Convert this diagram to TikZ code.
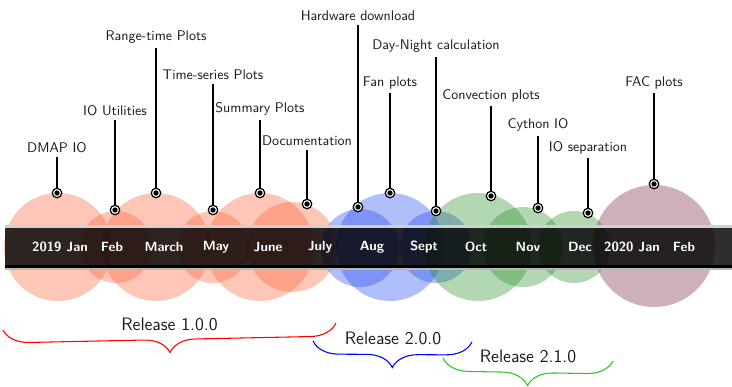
\documentclass[tikz,border=0pt]{standalone}
\usepackage{fontspec}
\usetikzlibrary{decorations.pathreplacing}
\definecolor{cpink}{RGB}{252,92,50}
\definecolor{cblue}{RGB}{30,70,240}
\definecolor{cgreen}{RGB}{35,140,35}
\definecolor{cmauve}{RGB}{115,30,55}
\definecolor{bgreen}{RGB}{40,200,40}
\definecolor{txt}{RGB}{25,25,25}
\begin{document}
\begin{tikzpicture}[x=0.75pt,y=-0.75pt,
  circ/.style={opacity=0.35},
  evlabel/.style={anchor=south,inner sep=3pt,text=txt,font=\sffamily\fontsize{10.5}{12}\selectfont},
  month/.style={text=white,inner sep=1pt,font=\sffamily\bfseries\fontsize{10}{12}\selectfont},
  evline/.style={line width=1pt,black},
  dotmark/.style={circle,draw=black,fill=white,line width=0.9pt,minimum size=7.1pt,inner sep=0pt,
    path picture={\fill[black] (path picture bounding box.center) circle (2pt);}},
  rel/.style={decorate,decoration={brace,mirror,amplitude=19.5pt},line width=0.8pt},
  reltext/.style={text=txt,inner sep=0pt,font=\sffamily\fontsize{13.5}{16}\selectfont}
]
\useasboundingbox (0,0) rectangle (732,386);
% circles
\fill[cpink,circ] (58,247) circle[radius=54*0.75pt];
\fill[cpink,circ] (116,247) circle[radius=36*0.75pt];
\fill[cpink,circ] (156,247) circle[radius=54*0.75pt];
\fill[cpink,circ] (213,247) circle[radius=36*0.75pt];
\fill[cpink,circ] (260,247) circle[radius=54*0.75pt];
\fill[cpink,circ] (292,247) circle[radius=45*0.75pt];
\fill[cblue,circ] (360,248) circle[radius=39*0.75pt];
\fill[cblue,circ] (390,247) circle[radius=54*0.75pt];
\fill[cblue,circ] (436,247) circle[radius=36*0.75pt];
\fill[cgreen,circ] (478,247) circle[radius=54*0.75pt];
\fill[cgreen,circ] (523,247) circle[radius=40*0.75pt];
\fill[cgreen,circ] (574,247) circle[radius=36*0.75pt];
\fill[cmauve,circ] (654,246) circle[radius=61*0.75pt];
% bar
\fill[black!18] (5,225) rectangle (732,228);
\fill[black,opacity=0.82] (5,228) rectangle (732,265);
\fill[black] (5,265) rectangle (732,267.5);
\fill[black!28] (5,267.5) rectangle (732,270);
% months
\foreach \i/\t in {0/2019 Jan,1/Feb,2/March,3/May,4/June,5/July,6/Aug,7/Sept,8/Oct,9/Nov,10/Dec,11/2020 Jan,12/Feb}
  \node[month] (m\i) at (60+52*\i,247) {\t};
% events
\foreach \n/\x/\top/\dy/\t in {
  a/57/157/193/{DMAP IO},
  b/115/120/210/{IO Utilities},
  c/156/48/193/{Range-time Plots},
  d/213/84/210/{Time-series Plots},
  e/260/120/193/{Summary Plots},
  f/307/150/204/{Documentation},
  g/358/25/207/{Hardware download},
  h/390/93/193/{Fan plots},
  i/436/57/211/{Day-Night calculation},
  j/491/106/196/{Convection plots},
  k/538/136/208/{Cython IO},
  l/588/158/213/{IO separation},
  m/654/93/184/{FAC plots}}
{
  \node[evlabel] (l\n) at (\x,\top) {\t};
  \node[dotmark] (d\n) at (\x,\dy) {};
  \draw[evline] (l\n.south) -- (d\n.north);
}
% releases
\coordinate (r1a) at (3,330); \coordinate (r1b) at (336,323);
\coordinate (r2a) at (313,341); \coordinate (r2b) at (472,342);
\coordinate (r3a) at (443,358); \coordinate (r3b) at (613,361);
\draw[rel,red] (r1a) -- (r1b);
\draw[rel,blue] (r2a) -- (r2b);
\draw[rel,bgreen] (r3a) -- (r3b);
\node[reltext] (t1) at (169.5,324) {Release 1.0.0};
\node[reltext] (t2) at (393,338) {Release 2.0.0};
\node[reltext] (t3) at (528,356) {Release 2.1.0};
\end{tikzpicture}
\end{document}
